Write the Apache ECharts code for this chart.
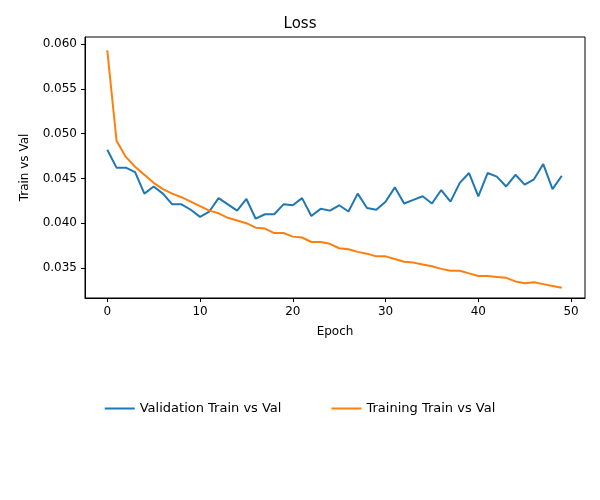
<!DOCTYPE html>
<html><head><meta charset="utf-8">
<script src="https://cdn.jsdelivr.net/npm/echarts@6/dist/echarts.min.js"></script>
<style>body{margin:0}#chart{width:600px;height:500px}</style>
</head><body><div id="chart"></div>
<script>
var valLoss = [0.0482,0.0462,0.0462,0.0457,0.0433,0.0441,0.0433,0.0421,0.0421,0.0415,0.0407,0.0413,0.0428,0.0421,0.0414,0.0427,0.0405,0.0410,0.0410,0.0421,0.0420,0.0428,0.0408,0.0416,0.0414,0.0420,0.0413,0.0433,0.0417,0.0415,0.0424,0.0440,0.0422,0.0426,0.0430,0.0422,0.0437,0.0424,0.0445,0.0456,0.0430,0.0456,0.0452,0.0441,0.0454,0.0443,0.0449,0.0466,0.0438,0.0453];
var trainLoss = [0.0593,0.0492,0.0474,0.0463,0.0454,0.0445,0.0438,0.0433,0.0429,0.0424,0.0419,0.0414,0.0411,0.0406,0.0403,0.0400,0.0395,0.0394,0.0389,0.0389,0.0385,0.0384,0.0379,0.0379,0.0377,0.0372,0.0371,0.0368,0.0366,0.0363,0.0363,0.0360,0.0357,0.0356,0.0354,0.0352,0.0349,0.0347,0.0347,0.0344,0.0341,0.0341,0.0340,0.0339,0.0335,0.0333,0.0334,0.0332,0.0330,0.0328];
var xTicks = [0,10,20,30,40,50];
var yTicks = [0.035,0.040,0.045,0.050,0.055,0.060];

function pairs(arr){ return arr.map(function(v,i){ return [i,v]; }); }
var font = 'DejaVu Sans';
var chart = echarts.init(document.getElementById('chart'));
var axisCommon = {
  axisLine:{show:true,onZero:false,lineStyle:{color:'#000'}},
  axisTick:{show:true,length:4,lineStyle:{color:'#000'}},
  axisLabel:{color:'#000',fontFamily:font,fontSize:12},
  splitLine:{show:false}
};
chart.setOption({
  animation:false,
  textStyle:{fontFamily:font},
  title:{text:'Loss',left:'center',top:12,textStyle:{fontFamily:font,fontSize:15,fontWeight:'normal',color:'#000'}},
  grid:{left:85,right:15,top:37,bottom:202,show:true,borderColor:'#000',borderWidth:1,backgroundColor:'transparent'},
  legend:{bottom:80,itemGap:50,icon:'path://M0,0H30V2H0Z',itemWidth:30,itemHeight:2,
    textStyle:{fontFamily:font,fontSize:13,color:'#000'},
    data:['Validation Train vs Val','Training Train vs Val']},
  xAxis:Object.assign({},axisCommon,{type:'value',min:-2.4,max:51.5,name:'Epoch',nameLocation:'middle',nameGap:28,
    nameTextStyle:{fontFamily:font,fontSize:12,color:'#000'},
    axisLabel:Object.assign({},axisCommon.axisLabel,{customValues:xTicks}),
    axisTick:Object.assign({},axisCommon.axisTick,{customValues:xTicks})}),
  yAxis:Object.assign({},axisCommon,{type:'value',min:0.03165,max:0.06078,name:'Train vs Val',nameLocation:'middle',nameGap:54,
    nameTextStyle:{fontFamily:font,fontSize:12,color:'#000'},
    axisLabel:Object.assign({},axisCommon.axisLabel,{customValues:yTicks,formatter:function(v){return v.toFixed(3);}}),
    axisTick:Object.assign({},axisCommon.axisTick,{customValues:yTicks})}),
  series:[
    {name:'Validation Train vs Val',type:'line',data:pairs(valLoss),showSymbol:false,color:'#1f77b4',lineStyle:{width:2,color:'#1f77b4'}},
    {name:'Training Train vs Val',type:'line',data:pairs(trainLoss),showSymbol:false,color:'#ff7f0e',lineStyle:{width:2,color:'#ff7f0e'}}
  ]
});
</script></body></html>
